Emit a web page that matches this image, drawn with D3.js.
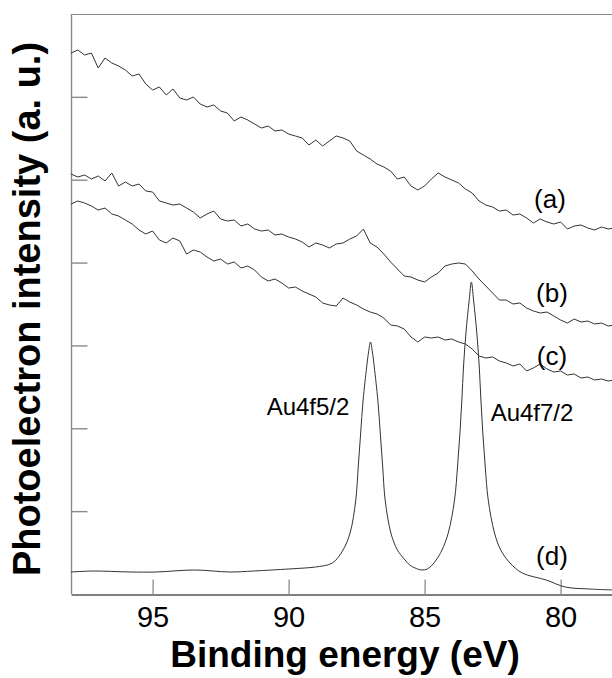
<!DOCTYPE html>
<html>
<head>
<meta charset="utf-8">
<script src="https://cdn.jsdelivr.net/npm/d3@7"></script>
<style>
  html, body { margin: 0; padding: 0; background: #fff; }
  svg { display: block; font-family: "Liberation Sans", Arial, sans-serif; }
</style>
</head>
<body>
<svg id="chart" width="612" height="678"></svg>
<script>
// ---- data (intensity in arbitrary units) ----
const gridStart = 98, gridStep = 0.25; // sampling grid of the noisy spectra (eV)

const seriesA = [541,544,539,541,526,536,531,528,524,518,
  520,510,504,507,499,505,496,494,497,490,
  487,489,483,481,473,477,474,470,466,468,
  463,464,460,458,456,449,454,448,453,458,
  456,453,443,439,435,430,427,423,415,417,
  408,404,408,415,421,417,414,411,405,401,
  393,389,387,383,384,379,380,376,371,375,
  372,370,372,365,368,369,366,364,367,365,366];

const seriesB = [420,417,419,415,418,413,421,408,412,408,
  410,403,402,393,391,389,390,386,382,376,
  380,383,375,373,374,368,370,365,363,364,
  359,360,357,355,352,347,351,349,346,350,
  351,355,358,365,351,347,340,332,325,318,
  317,314,312,317,321,328,330,331,330,323,
  315,308,301,294,294,290,291,286,283,281,
  282,278,274,271,275,272,273,270,271,268,269];

const seriesC = [390,393,391,388,384,386,380,378,374,370,
  364,360,363,354,351,356,353,340,344,342,
  337,333,335,330,332,326,328,324,317,313,
  315,311,306,307,303,300,297,291,289,288,
  296,292,289,285,282,280,276,269,268,265,
  257,252,257,256,257,254,255,252,250,245,
  238,236,237,233,231,228,230,223,226,230,
  225,222,223,219,220,216,217,214,215,213,214];

const energyD = [98.00,97.16,95.83,94.88,93.45,92.16,91.28,90.00,89.41,89.01,
  88.39,88.00,87.74,87.53,87.44,87.35,87.26,87.13,87.06,86.99,
  86.92,86.85,86.72,86.63,86.54,86.45,86.24,86.00,85.75,85.55,
  85.35,85.11,84.90,84.72,84.55,84.36,84.13,83.90,83.79,83.70,
  83.63,83.57,83.48,83.36,83.28,83.20,83.08,82.99,82.93,82.86,
  82.77,82.66,82.43,82.20,81.86,81.41,80.53,79.83,78.95,78.03];
const seriesD = [22,23,22,22,24,22,23,25,26,27,
  31,44,61,94,127,161,194,227,242,252,
  242,227,194,161,127,94,61,44,35,29,
  26,24,25,29,35,44,61,94,127,161,
  194,227,261,294,312,294,261,227,194,161,
  127,94,61,44,31,21,14,7,5,4];

const xTicks = [95, 90, 85, 80];
const seriesLabels = ["(a)", "(b)", "(c)", "(d)"];
const labelPos = [[550, 208], [552, 302], [552, 365], [552, 565]]; // [x px, baseline px]
const peakLabels = ["Au4f5/2", "Au4f7/2"];
const peakLabelPos = [[308, 415], [532, 421]];

// ---- layout ----
const svg = d3.select("#chart");
const L = 71, R = 615, T = 14, B = 594;
const x = d3.scaleLinear().domain([98, 78]).range([L, R]);
const y = d3.scaleLinear().domain([0, 580]).range([B, T]);
const yTicks = d3.range(1, 7).map(k => k * 580 / 7);

// frame
svg.append("line").attr("x1", L).attr("x2", R).attr("y1", T + 0.5).attr("y2", T + 0.5)
  .attr("stroke", "#8a8a8a").attr("stroke-width", 1.2);
svg.append("line").attr("x1", L + 0.5).attr("x2", L + 0.5).attr("y1", T).attr("y2", B)
  .attr("stroke", "#8a8a8a").attr("stroke-width", 1.4);

// y ticks (no labels)
const yAxis = svg.append("g").attr("transform", `translate(${L + 0.5},0)`)
  .call(d3.axisLeft(y).tickValues(yTicks).tickSize(-16).tickSizeOuter(0).tickFormat(""));
yAxis.select(".domain").remove();
yAxis.selectAll(".tick line").attr("stroke", "#8a8a8a").attr("stroke-width", 1.4);

// x axis
const xAxis = svg.append("g").attr("transform", `translate(0,${B + 0.5})`)
  .call(d3.axisBottom(x).tickValues(xTicks).tickSize(-15).tickSizeOuter(0).tickFormat(d3.format("d")));
xAxis.select(".domain").attr("stroke", "#555").attr("stroke-width", 1.3);
xAxis.selectAll(".tick line").attr("stroke", "#8a8a8a").attr("stroke-width", 1.3);
xAxis.selectAll(".tick text").attr("y", 32.5).attr("dy", 0)
  .attr("font-size", 29).attr("fill", "#000")
  .attr("font-family", "'Liberation Sans', Arial, sans-serif");

// curves
const lineNoisy = d3.line()
  .x((d, i) => x(gridStart - gridStep * i))
  .y(d => y(d));
const lineD = d3.line()
  .x(d => x(d[0])).y(d => y(d[1]))
  .curve(d3.curveCatmullRom.alpha(0.5));

const plot = svg.append("g");
[seriesA, seriesB, seriesC].forEach(s => {
  plot.append("path").datum(s).attr("d", lineNoisy)
    .attr("fill", "none").attr("stroke", "#333").attr("stroke-width", 1);
});
plot.append("path").datum(energyD.map((e, i) => [e, seriesD[i]])).attr("d", lineD)
  .attr("fill", "none").attr("stroke", "#333").attr("stroke-width", 1);

// labels
seriesLabels.forEach((t, i) => {
  svg.append("text").attr("x", labelPos[i][0]).attr("y", labelPos[i][1])
    .attr("text-anchor", "middle").attr("font-size", 26).attr("fill", "#000").text(t);
});
peakLabels.forEach((t, i) => {
  svg.append("text").attr("x", peakLabelPos[i][0]).attr("y", peakLabelPos[i][1])
    .attr("text-anchor", "middle").attr("font-size", 24).attr("fill", "#000").text(t);
});

// axis titles
svg.append("text").attr("x", 345).attr("y", 667).attr("text-anchor", "middle")
  .attr("font-size", 37).attr("font-weight", "bold").attr("fill", "#000")
  .text("Binding energy (eV)");
svg.append("text").attr("transform", "translate(40,309) rotate(-90)")
  .attr("text-anchor", "middle")
  .attr("font-size", 38).attr("font-weight", "bold").attr("fill", "#000")
  .text("Photoelectron intensity (a. u.)");
</script>
</body>
</html>
